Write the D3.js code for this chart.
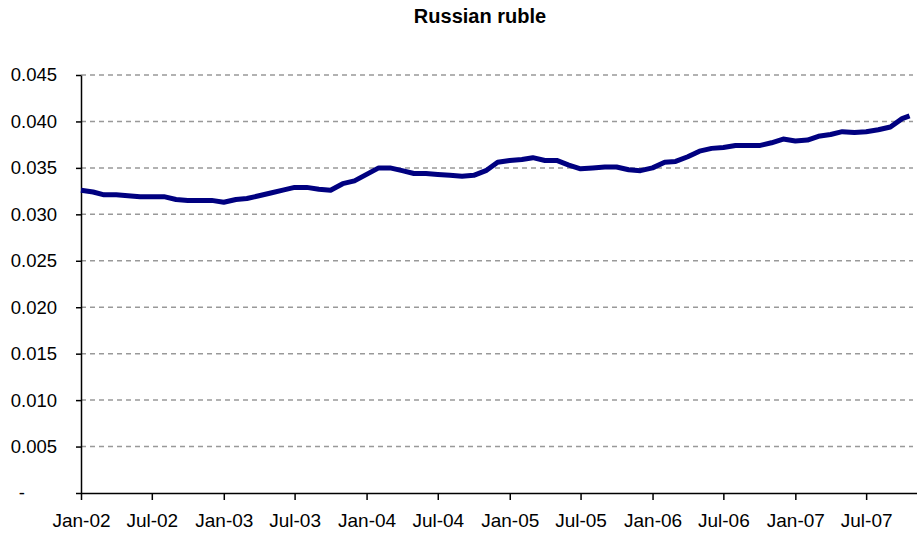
<!DOCTYPE html>
<html>
<head>
<meta charset="utf-8">
<script src="https://cdn.jsdelivr.net/npm/d3@7"></script>
<style>
  body { margin: 0; background: #fff; }
  svg { display: block; font-family: Arial, "Liberation Sans", sans-serif; }
  .grid line { stroke: #999; stroke-width: 1.5; stroke-dasharray: 5,4; }
  .axis path, .axis line { stroke: #000; stroke-width: 1.5; }
  .axis text { font-size: 18.5px; fill: #000; }
  .x.axis text { font-size: 19px; }
</style>
</head>
<body>
<svg id="chart"></svg>
<script>
var width = 917,
    height = 535;

// monthly readings, Jan-02 .. Oct-07, plus the last reading in mid Oct-07
var firstMonth = new Date(2002, 0, 1),
    lastMonth = new Date(2007, 9, 1),
    lastReading = new Date(2007, 9, 20);

var rubleValues = [
  0.0326, 0.0324, 0.0321, 0.0321, 0.0320, 0.0319, 0.0319, 0.0319, 0.0316, 0.0315, 0.0315, 0.0315,
  0.0313, 0.0316, 0.0317, 0.0320, 0.0323, 0.0326, 0.0329, 0.0329, 0.0327, 0.0326, 0.0333, 0.0336,
  0.0343, 0.0350, 0.0350, 0.0347, 0.0344, 0.0344, 0.0343, 0.0342, 0.0341, 0.0342, 0.0347, 0.0356,
  0.0358, 0.0359, 0.0361, 0.0358, 0.0358, 0.0353, 0.0349, 0.0350, 0.0351, 0.0351, 0.0348, 0.0347,
  0.0350, 0.0356, 0.0357, 0.0362, 0.0368, 0.0371, 0.0372, 0.0374, 0.0374, 0.0374, 0.0377, 0.0381,
  0.0379, 0.0380, 0.0384, 0.0386, 0.0389, 0.0388, 0.0389, 0.0391, 0.0394, 0.0403,
  0.0406
];

var yTicks = [0, 0.005, 0.010, 0.015, 0.020, 0.025, 0.030, 0.035, 0.040, 0.045];
var title = "Russian ruble";

var dates = d3.timeMonth.range(firstMonth, d3.timeMonth.offset(lastMonth, 1));
dates.push(lastReading);
var data = dates.map((d, i) => ({date: d, value: rubleValues[i]}));

var margin = {top: 75, right: 0, bottom: 42, left: 81};

var x = d3.scaleTime()
          .domain([firstMonth, new Date(2007, 10, 8)])
          .range([margin.left, width - margin.right]);

var y = d3.scaleLinear()
          .domain([0, 0.045])
          .range([height - margin.bottom, margin.top]);

var svg = d3.select('#chart')
            .attr('width', width)
            .attr('height', height);

svg.append('text')
   .attr('x', 480)
   .attr('y', 23)
   .attr('text-anchor', 'middle')
   .style('font-size', '20px')
   .style('font-weight', 'bold')
   .text(title);

// dashed gridlines
svg.append('g')
   .attr('class', 'grid')
   .selectAll('line')
   .data(yTicks.filter(d => d > 0))
   .join('line')
   .attr('x1', margin.left)
   .attr('x2', width - 4)
   .attr('y1', d => y(d))
   .attr('y2', d => y(d));

// y axis
var yAxis = svg.append('g')
   .attr('class', 'y axis')
   .attr('transform', `translate(${margin.left},0)`)
   .call(d3.axisLeft(y)
           .tickValues(yTicks)
           .tickSize(5)
           .tickSizeOuter(0)
           .tickPadding(19)
           .tickFormat(d => d === 0 ? '-' : d3.format('.3f')(d)));

// the zero label is the accounting dash, set in from the right
yAxis.selectAll('.tick text')
     .filter(d => d === 0)
     .attr('dx', -32);

// x axis
svg.append('g')
   .attr('class', 'x axis')
   .attr('transform', `translate(0,${height - margin.bottom})`)
   .call(d3.axisBottom(x)
           .ticks(d3.timeMonth.every(6))
           .tickSize(7)
           .tickSizeOuter(0)
           .tickPadding(14)
           .tickFormat(d3.timeFormat('%b-%y')));

var line = d3.line()
             .x(d => x(d.date))
             .y(d => y(d.value));

svg.append('path')
   .datum(data)
   .attr('fill', 'none')
   .attr('stroke', '#000080')
   .attr('stroke-width', 5)
   .attr('stroke-linejoin', 'round')
   .attr('d', line);
</script>
</body>
</html>
